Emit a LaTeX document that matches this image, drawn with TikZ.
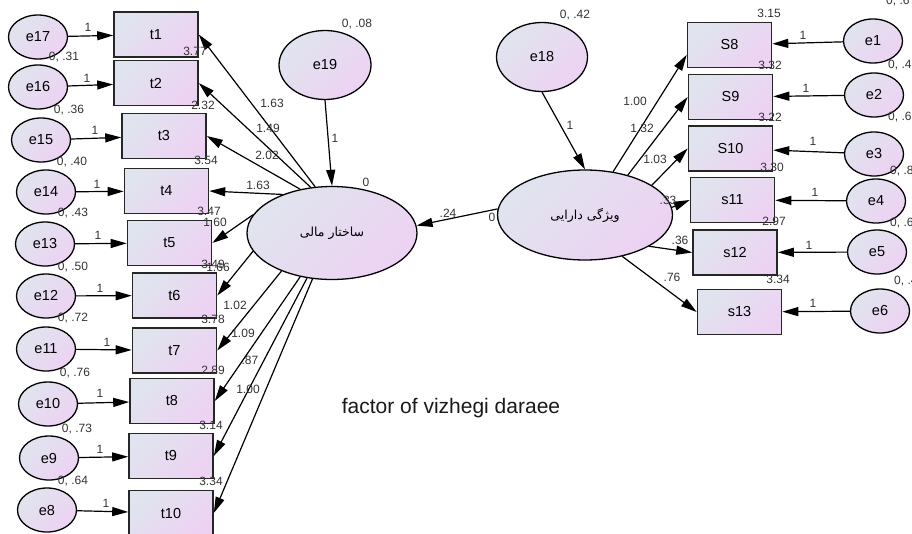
\documentclass[tikz,border=0pt]{standalone}
\usepackage{fontspec}
\setmainfont{Liberation Sans}
\newfontfamily\arabicfont[Script=Arabic]{DejaVu Sans}
\TeXXeTstate=1
\usetikzlibrary{shapes.geometric,arrows.meta}
\definecolor{gA}{HTML}{E0E4EE}
\definecolor{gB}{HTML}{EDD2F3}
\definecolor{lblc}{HTML}{333333}
\begin{document}
\begin{tikzpicture}[x=1pt,y=-1pt,
  obs/.style={rectangle, draw=black!85, line width=1.6pt, top color=gA, bottom color=gB, shading angle=45,
    minimum width=84pt, minimum height=45pt, inner sep=0pt, font=\fontsize{14.5}{16}\selectfont},
  lat/.style={ellipse, draw=black, line width=1.3pt, top color=gA, bottom color=gB, shading angle=45,
    inner sep=0pt, font=\fontsize{14.5}{16}\selectfont},
  err/.style={lat, minimum width=59pt, minimum height=44pt},
  arr/.style={-{Triangle[length=16pt,width=9pt]}, line width=1.2pt},
  num/.style={font=\fontsize{12}{13}\selectfont, text=lblc, inner sep=0pt},
  rnum/.style={num, anchor=west}]
\useasboundingbox (0,0) rectangle (912,533);

% ---------- left observed boxes ----------
\node[obs] (t1) at (156,34.5) {t1};
\node[obs] (t2) at (156,83) {t2};
\node[obs] (t3) at (164,136) {t3};
\node[obs] (t4) at (166.5,191) {t4};
\node[obs] (t5) at (169.5,243) {t5};
\node[obs] (t6) at (174.5,295.5) {t6};
\node[obs] (t7) at (174.5,350.5) {t7};
\node[obs] (t8) at (172,401) {t8};
\node[obs] (t9) at (171,456) {t9};
\node[obs] (t10) at (171,513) {t10};

% ---------- left error ellipses ----------
\node[err] (e17) at (38,37) {e17};
\node[err] (e16) at (38,87) {e16};
\node[err] (e15) at (41,140) {e15};
\node[err] (e14) at (46,192) {e14};
\node[err] (e13) at (45,244) {e13};
\node[err] (e12) at (46,296) {e12};
\node[err] (e11) at (46,349) {e11};
\node[err] (e10) at (48,404) {e10};
\node[err] (e9) at (49,458) {e9};
\node[err] (e8) at (47,510) {e8};

% ---------- latent variables ----------
\node[lat, minimum width=92pt, minimum height=69pt] (e19) at (325,65) {e19};
\node[lat, minimum width=91pt, minimum height=69pt] (e18) at (542,57) {e18};
\node[lat, minimum width=170pt, minimum height=93pt, font=\arabicfont\fontsize{12.5}{14}\selectfont] (C) at (332,233) {\beginR ساختار مالی\endR};
\node[lat, minimum width=175pt, minimum height=90pt, font=\arabicfont\fontsize{12.5}{14}\selectfont] (R) at (585,215) {\beginR ویژگی دارایی\endR};

% ---------- right observed boxes ----------
\node[obs] (S8) at (729.5,45) {S8};
\node[obs] (S9) at (730.5,97) {S9};
\node[obs] (S10) at (730.5,148.5) {S10};
\node[obs] (s11) at (732.5,200) {s11};
\node[obs] (s12) at (735,252.5) {s12};
\node[obs] (s13) at (739.5,312) {s13};

% ---------- right error ellipses ----------
\node[err] (e1) at (873,41) {e1};
\node[err] (e2) at (874,95) {e2};
\node[err] (e3) at (874,154) {e3};
\node[err] (e4) at (876,201) {e4};
\node[err] (e5) at (877,252) {e5};
\node[err] (e6) at (880,311) {e6};

% ---------- arrows: errors to indicators ----------
\foreach \e/\t in {e17/t1,e16/t2,e15/t3,e14/t4,e13/t5,e12/t6,e11/t7,e10/t8,e9/t9,e8/t10}
  \draw[arr] (\e) -- (\t);
\foreach \e/\t in {e1/S8,e2/S9,e3/S10,e4/s11,e5/s12,e6/s13}
  \draw[arr] (\e) -- (\t);

% ---------- arrows: latent to indicators ----------
\draw[arr] (C.110.3) -- (t1.east);
\draw[arr] (C.115.6) -- (t2.east);
\draw[arr] (C.126) -- (t3.east);
\draw[arr] (C.142.8) -- (t4.east);
\draw[arr] (C.167.2) -- (t5.east);
\draw[arr] (C.193.4) -- (t6.east);
\draw[arr] (C.217.6) -- (t7.east);
\draw[arr] (C.234) -- (t8.east);
\draw[arr] (C.241) -- (t9.east);
\draw[arr] (C.247.5) -- (t10.east);

\draw[arr] (R.57.9) -- (S8.193);
\draw[arr] (R.43.5) -- (S9.west);
\draw[arr] (R.24.8) -- (S10.west);
\draw[arr] (R.5) -- (s11.west);
\draw[arr] (R.334.5) -- (s12.west);
\draw[arr] (R.312) -- (s13.west);

\draw[arr] (e19.south) -- (C.north);
\draw[arr] (e18.south) -- (R.north);
\draw[arr] (R.176) -- (C.5);

% ---------- left labels ----------
\node[num] (v16) at (64,57) {0, .31};
\node[num] (v15) at (69,110) {0, .36};
\node[num] (v14) at (72,162) {0, .40};
\node[num] (v13) at (73,213) {0, .43};
\node[num] (v12) at (73,267) {0, .50};
\node[num] (v11) at (73,318) {0, .72};
\node[num] (v10) at (75,373) {0, .76};
\node[num] (v9) at (77,429) {0, .73};
\node[num] (v8) at (73,481) {0, .64};

\node[num] (o17) at (88,27) {1};
\node[num] (o16) at (87,78) {1};
\node[num] (o15) at (95,130) {1};
\node[num] (o14) at (97,184) {1};
\node[num] (o13) at (98,235) {1};
\node[num] (o12) at (100,288) {1};
\node[num] (o11) at (107,342) {1};
\node[num] (o10) at (100,393) {1};
\node[num] (o9) at (100,449) {1};
\node[num] (o8) at (106,503) {1};

\node[num] (i1) at (195,51) {3.77};
\node[num] (i2) at (203,105) {2.32};
\node[num] (i3) at (206,160) {3.54};
\node[num] (i4) at (209,211) {3.47};
\node[num] (i5) at (213,264) {3.49};
\node[num] (i6) at (213,319) {3.78};
\node[num] (i7) at (213,370) {2.89};
\node[num] (i8) at (211,425) {3.14};
\node[num] (i9) at (211,481) {3.34};

\node[num] (p1) at (272,103) {1.63};
\node[num] (p2) at (268,128) {1.49};
\node[num] (p3) at (267,155) {2.02};
\node[num] (p4) at (258,185) {1.63};
\node[num] (p5) at (215,222) {1.60};
\node[num] (p6) at (218,267) {1.66};
\node[num] (p7) at (235,305) {1.02};
\node[num] (p8) at (243,333) {1.09};
\node[num] (p9) at (250,360) {.87};
\node[num] (p10) at (248,389) {1.00};

% ---------- centre labels ----------
\node[num] (m0) at (366,182) {0};
\node[num] (v19) at (357,24) {0, .08};
\node[num] (o19) at (335,138) {1};
\node[num] (b24) at (448,213) {.24};
\node[num] (r0) at (492,217) {0};
\node[num] (v18) at (575,15) {0, .42};
\node[num] (o18) at (570,125) {1};

% ---------- right labels ----------
\node[num] (j8) at (769,13) {3.15};
\node[num] (j9) at (770,65) {3.32};
\node[num] (j10) at (770,117) {3.22};
\node[num] (j11) at (772,167) {3.30};
\node[num] (j12) at (774,221) {2.97};
\node[num] (j13) at (778,279) {3.34};

\node[num] (q1) at (803,35) {1};
\node[num] (q2) at (806,88) {1};
\node[num] (q3) at (813,141) {1};
\node[num] (q4) at (815,192) {1};
\node[num] (q5) at (809,245) {1};
\node[num] (q6) at (813,303) {1};

\node[num] (k8) at (635,101) {1.00};
\node[num] (k9) at (642,128) {1.32};
\node[num] (k10) at (655,159) {1.03};
\node[num] (k11) at (668,200) {.33};
\node[num] (k12) at (680,240) {.36};
\node[num] (k13) at (672,277) {.76};

\node[rnum] (w1) at (886,1) {0, .6};
\node[rnum] (w2) at (888,65) {0, .4};
\node[rnum] (w3) at (888,117) {0, .6};
\node[rnum] (w4) at (890,171) {0, .8};
\node[rnum] (w5) at (890,223) {0, .6};
\node[rnum] (w6) at (894,281) {0, .4};

% ---------- title ----------
\node[font=\fontsize{21}{24}\selectfont, text=black!90, inner sep=0pt] (title) at (451,408) {factor of vizhegi daraee};
\end{tikzpicture}
\end{document}
